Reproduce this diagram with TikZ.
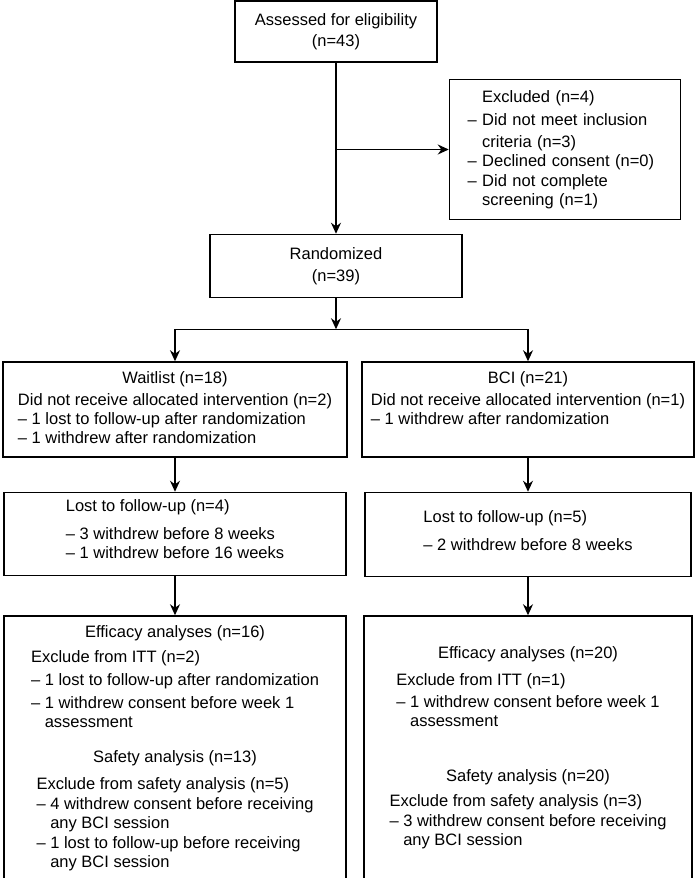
\documentclass[tikz,border=0pt]{standalone}
\usepackage{fontspec}
\setmainfont{Liberation Sans}
\usepackage{tikz}
\usetikzlibrary{positioning, arrows.meta}

\newcommand{\dashitem}{\textendash\ }
\newcommand{\wrapindent}{\hphantom{\textendash\ }}

\begin{document}
\begin{tikzpicture}[
			x=1pt, y=1pt,
			font=\fontsize{16.5}{19}\selectfont,
			default_node/.style={
				rectangle,
				draw=black,
				line width=1.5pt,
				align=center,
				inner sep=0pt
			},
			line/.style={
				-{Stealth[length=11pt,width=10pt]},
				line width=1.4pt
			}
			]
			
			\useasboundingbox (0,0) rectangle (698,-878);
			
			% Enrollment
			
			\node [default_node, minimum width=202pt, minimum height=61pt] (assess) at (336,-31.5) {Assessed for eligibility\\[2pt](n=43)};
			
			\node [default_node, align=left, text width=195pt, inner xsep=18pt, minimum height=140pt, below right=16pt and 11pt of assess] (excluded) {\wrapindent Excluded (n=4)\\[4pt]
				\dashitem Did not meet inclusion\\[3pt]
				\wrapindent criteria (n=3)\\
				\dashitem Declined consent (n=0)\\[1pt]
				\dashitem Did not complete\\
				\wrapindent screening (n=1)\\[6pt]};
			
			\node [default_node, minimum width=252pt, minimum height=63pt, below=171pt of assess] (randomized) {Randomized\\[3pt](n=39)};
			
			\coordinate [below=31pt of randomized] (split);
			\coordinate [left=161pt of split] (split_wl);
			\coordinate [right=192pt of split] (split_bci);
			
			% Allocation
			
			\node [default_node, minimum width=344pt, minimum height=95pt, below=32pt of split_wl] (waitlist) {\begin{tabular}{@{}l@{}}
				\multicolumn{1}{@{}c@{}}{Waitlist (n=18)}\\[3pt]
				Did not receive allocated intervention (n=2)\\
				\dashitem 1 lost to follow-up after randomization\\
				\dashitem 1 withdrew after randomization
			\end{tabular}};
			
			\node [default_node, minimum width=332pt, minimum height=95pt, below=32pt of split_bci] (bci) {\begin{tabular}{@{}l@{}}
				\multicolumn{1}{@{}c@{}}{BCI (n=21)}\\[3pt]
				Did not receive allocated intervention (n=1)\\
				\dashitem 1 withdrew after randomization\\[19pt]
			\end{tabular}};
			
			% Follow-up
			
			\node [default_node, minimum width=342pt, minimum height=83pt, below=34pt of waitlist] (lost_wl) {\begin{tabular}{@{}l@{}}
				Lost to follow-up (n=4)\\[9pt]
				\dashitem 3 withdrew before 8 weeks\\
				\dashitem 1 withdrew before 16 weeks\\[6pt]
			\end{tabular}};
			
			\node [default_node, minimum width=326pt, minimum height=84pt, below=34pt of bci] (lost_bci) {\begin{tabular}{@{}l@{}}
				Lost to follow-up (n=5)\\[9pt]
				\dashitem 2 withdrew before 8 weeks\\[4pt]
			\end{tabular}};
			
			% Analysis
			
			\node [default_node, minimum width=342pt, minimum height=266pt, below=39pt of lost_wl] (eff_wl) {\begin{tabular}{@{}c@{}}
				Efficacy analyses (n=16)\\[6pt]
				\begin{tabular}[b]{@{}l@{}}
					Exclude from ITT (n=2)\\[4pt]
					\dashitem 1 lost to follow-up after randomization\\[4pt]
					\dashitem 1 withdrew consent before week 1\\
					\wrapindent assessment
				\end{tabular}\\[16pt]
				Safety analysis (n=13)\\[8pt]
				\begin{tabular}[b]{@{}l@{}}
					Exclude from safety analysis (n=5)\\[1pt]
					\dashitem 4 withdrew consent before receiving\\
					\wrapindent any BCI session\\[1pt]
					\dashitem 1 lost to follow-up before receiving\\
					\wrapindent any BCI session
				\end{tabular}
			\end{tabular}};
			
			\node [default_node, minimum width=328pt, minimum height=264pt, below=38pt of lost_bci] (eff_bci) {\begin{tabular}{@{}c@{}}
				Efficacy analyses (n=20)\\[8pt]
				\begin{tabular}[b]{@{}l@{}}
					Exclude from ITT (n=1)\\[3pt]
					\dashitem 1 withdrew consent before week 1\\
					\wrapindent assessment
				\end{tabular}\\[36pt]
				Safety analysis (n=20)\\[6pt]
				\begin{tabular}[b]{@{}l@{}}
					Exclude from safety analysis (n=3)\\[1pt]
					\dashitem 3 withdrew consent before receiving\\
					\wrapindent any BCI session
				\end{tabular}
			\end{tabular}};
			
			% Connections
			
			\draw[line] (assess) -- (randomized);
			\draw[line] (assess.south |- excluded.west) -- (excluded.west);
			
			\draw[line] (randomized) -- (split);
			\draw[line width=1.4pt] (split_wl) -- (split_bci);
			\draw[line] (split_wl) -- (waitlist);
			\draw[line] (split_bci) -- (bci);
			
			\draw[line] (waitlist) -- (lost_wl);
			\draw[line] (bci) -- (lost_bci);
			
			\draw[line] (lost_wl) -- (eff_wl);
			\draw[line] (lost_bci) -- (eff_bci);
			
		\end{tikzpicture}
\end{document}
